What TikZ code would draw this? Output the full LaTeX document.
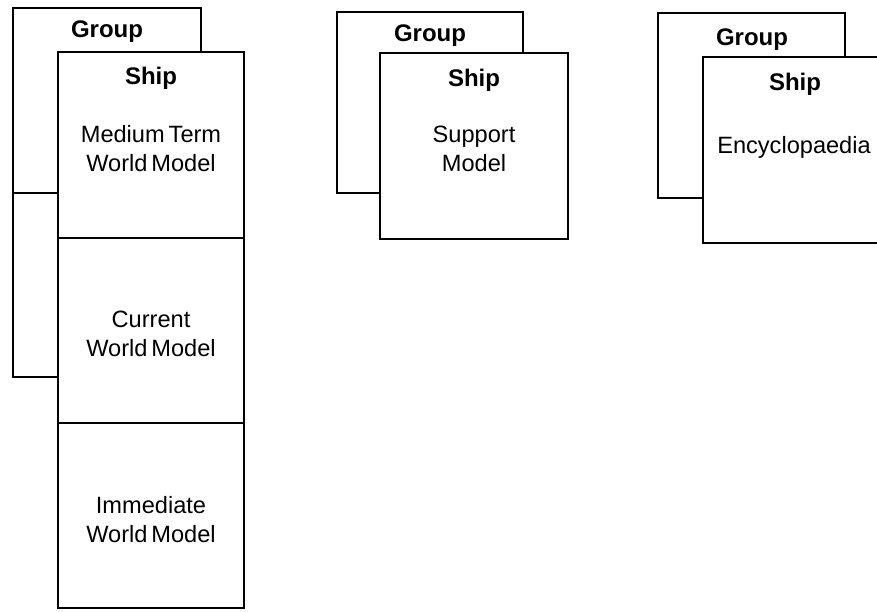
\documentclass[tikz,border=0pt]{standalone}
\usepackage{fontspec}
\setmainfont{Liberation Sans}
\usetikzlibrary{positioning}

\tikzset{
  box/.style={draw, line width=1.3pt, fill=white},
  title/.style={font=\bfseries\fontsize{12}{14}\selectfont},
  txt/.style={align=center, font=\fontsize{11.8}{14.5}\selectfont}
}

\begin{document}
\begin{tikzpicture}[x=0.5pt,y=-0.5pt]
		\useasboundingbox (0,0) rectangle (877,611);
		\clip (0,0) rectangle (877,611);
		% left: group with two cells, ship with three cells
		\draw[box] (13,8) rectangle (201,193);
		\draw[box] (13,193) rectangle (201,377);
		\draw[box] (58,52) rectangle (244,238);
		\draw[box] (58,238) rectangle (244,423);
		\draw[box] (58,423) rectangle (244,608);
		\node[title] (grpA) at (107,32) {Group};
		\node[title] (shipA) at (151,78) {Ship};
		\node[txt] (medium) at (151,149) {Medium\,Term\\World\,Model};
		\node[txt] (current) at (151,334) {Current\\World\,Model};
		\node[txt] (immediate) at (151,520) {Immediate\\World\,Model};
		% middle
		\draw[box] (337,12) rectangle (523,193);
		\draw[box] (380,53) rectangle (568,239);
		\node[title] (grpB) at (430,36) {Group};
		\node[title] (shipB) at (474,80) {Ship};
		\node[txt] (support) at (474,149) {Support\\Model};
		% right
		\draw[box] (658,13) rectangle (845,198);
		\draw[box] (703,57) rectangle (900,243);
		\node[title] (grpC) at (752,40) {Group};
		\node[title] (shipC) at (795,84) {Ship};
		\node[txt] (encyc) at (794,147) {Encyclopaedia};
\end{tikzpicture}
\end{document}
